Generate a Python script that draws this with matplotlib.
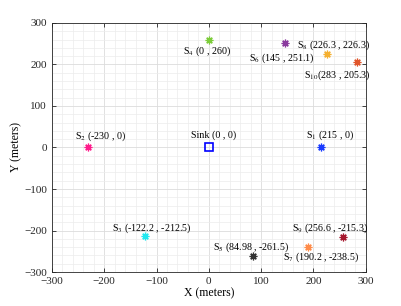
import matplotlib
matplotlib.use("Agg")
import matplotlib.pyplot as plt
from matplotlib.ticker import MultipleLocator

plt.rcParams['font.family'] = ['Liberation Serif', 'DejaVu Serif']
plt.rcParams['mathtext.fontset'] = 'stix'

names = ['S$_{1}$', 'S$_{2}$', 'S$_{3}$', 'S$_{4}$', 'S$_{5}$', 'S$_{6}$', 'S$_{7}$', 'S$_{8}$', 'S$_{9}$', 'S$_{10}$']
xs = [215, -230, -122.2, 0, 84.98, 145, 190.2, 226.3, 256.6, 283]
ys = [0, 0, -212.5, 260, -261.5, 251.1, -238.5, 226.3, -215.3, 205.3]
coord_text = ['(215 , 0)', '(-230 , 0)', '(-122.2 , -212.5)', '(0 , 260)', '(84.98 , -261.5)',
              '(145 , 251.1)', '(190.2 , -238.5)', '(226.3 , 226.3)', '(256.6 , -215.3)', '(283 , 205.3)']
colors = ['#1a3cff', '#ff1c8c', '#22e8f0', '#7ccc3a', '#333333', '#8a3a9e', '#ff8c4a', '#f5b030', '#a6182e', '#e0552a']
label_x = [185, -256, -185, -50, 8, 76, 141, 168, 159, 182]
label_y = [30, 26, -195, 233, -240, 215, -265, 247, -194, 173]
sink_x, sink_y = [0], [0]

fig = plt.figure(figsize=(4.02, 3.06), dpi=100)
ax = fig.add_axes([0.129, 0.111, 0.781, 0.814])

ax.plot(sink_x, sink_y, 's', mfc='none', mec='#0000ff', ms=6, mew=1.2)
ax.text(-34, 30, 'Sink (0 , 0)', fontsize=7.2, va='center', ha='left')

for i in range(len(xs)):
    ax.plot(xs[i], ys[i], marker=(8, 2, 0), color=colors[i], ms=5.5, mew=0.9, ls='none')
    gap = '' if i == 9 else ' '
    ax.text(label_x[i], label_y[i], names[i] + gap + coord_text[i], fontsize=7.2,
            va='center', ha='left')

ax.set_xlim(-300, 300)
ax.set_ylim(-300, 300)
ax.xaxis.set_major_locator(MultipleLocator(100))
ax.yaxis.set_major_locator(MultipleLocator(100))
ax.xaxis.set_minor_locator(MultipleLocator(20))
ax.yaxis.set_minor_locator(MultipleLocator(20))
ax.grid(True, which='major', color='#dcdcdc', lw=0.6)
ax.grid(True, which='minor', color='#ececec', lw=0.5)
ax.set_axisbelow(True)
ax.tick_params(which='major', direction='in', top=True, right=True, length=3, width=0.6,
               labelsize=8, colors='#262626')
ax.tick_params(which='minor', length=0)
for s in ax.spines.values():
    s.set_color('#262626')
    s.set_linewidth(0.6)
ax.set_xlabel('X (meters)', fontsize=8.5, labelpad=1)
ax.set_ylabel('Y (meters)', fontsize=8.5, labelpad=1)

fig.savefig('out.png', dpi=100)
